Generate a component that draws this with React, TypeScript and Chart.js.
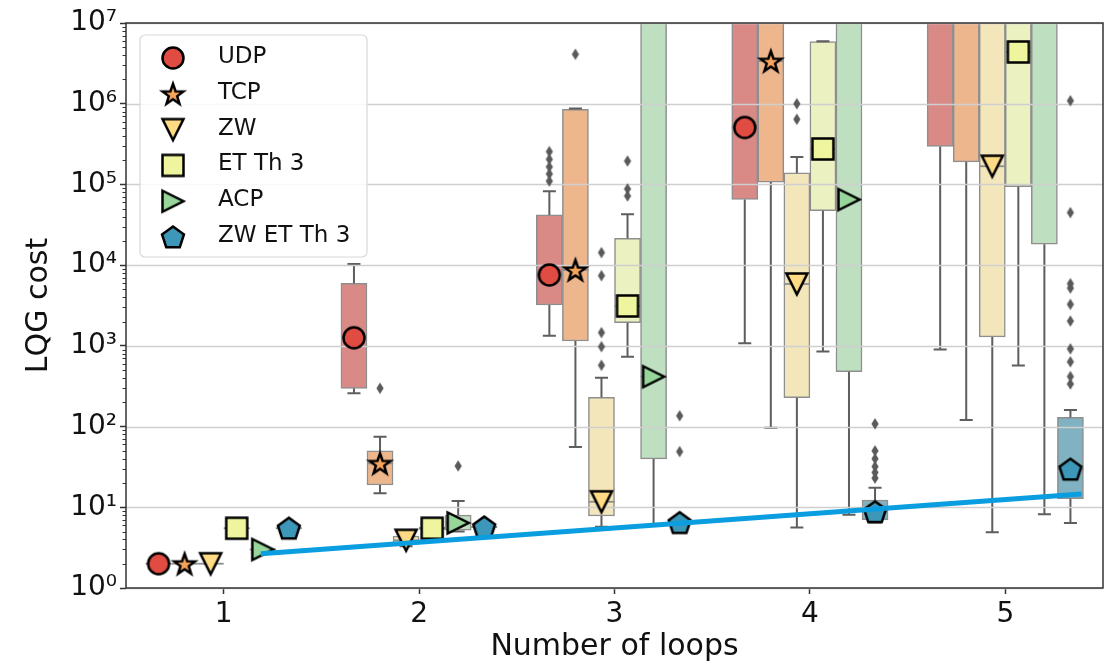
import { useEffect, useRef } from 'react';
import { Chart, registerables } from 'chart.js';

Chart.register(...registerables);

// ---------- data ----------
const categories = ['1', '2', '3', '4', '5'];
const seriesNames = ['UDP', 'TCP', 'ZW', 'ET Th 3', 'ACP', 'ZW ET Th 3'];
const yTickValues = [1, 10, 100, 1e3, 1e4, 1e5, 1e6, 1e7];
const yTickLabels = ['10⁰', '10¹', '10²', '10³', '10⁴', '10⁵', '10⁶', '10⁷'];

// rows: series (UDP..ZW ET Th 3); columns: number of loops 1..5
const boxQ1 = [
  [2, 298, 3210, 65000, 296000],
  [2, 18.9, 1150, 107000, 190000],
  [2, 3.5, 7.8, 228, 1290],
  [5.5, 5.3, 1940, 47200, 93800],
  [3, 5.2, 39.7, 478, 18200],
  [5.5, 5.7, 6.45, 7, 12.8],
];
const boxQ3 = [
  [2, 5970, 41900, 5e7, 8e7],
  [2, 49.9, 855000, 5e7, 8e7],
  [2, 4.4, 231, 139000, 8e7],
  [5.5, 5.7, 21500, 5.9e6, 8e7],
  [3, 8.0, 8e7, 8e7, 8e7],
  [5.5, 5.7, 6.45, 12.3, 130],
];
const medians = [
  [2, 1260, 7560, 508000, null],
  [2, 35, 8720, 3.37e6, null],
  [2, 3.9, 11.7, 5840, 168000],
  [5.5, 5.5, 3120, 275000, 4.38e6],
  [3, 6.4, 415, 65000, null],
  [5.5, 5.7, 6.45, 8.8, 29.6],
];
const whiskerLow = [
  [2, 258, 1330, 1077, 900],
  [2, 14.9, 56, 97, 121],
  [2, 3.3, 5.75, 5.6, 4.9],
  [5.5, 5.0, 735, 853, 571],
  [3, 5.0, 6.0, 8.1, 8.2],
  [5.5, 5.7, 6.45, 6.5, 6.4],
];
const whiskerHigh = [
  [2, 10350, 82400, 1e8, 1e8],
  [2, 75, 870000, 1e8, 1e8],
  [2, 4.6, 404, 219000, 1e8],
  [5.5, 6.0, 42700, 5.95e6, 1e8],
  [3, 12, 1e8, 1e8, 1e8],
  [5.5, 5.7, 6.45, 17.5, 161],
];
const outliers = [
  [[], [], [110000, 135000, 165000, 205000, 255000], [], []],
  [[], [298], [4.1e6], [], []],
  [[], [], [575, 977, 1460, 7410, 14300], [641000, 1e6], []],
  [[], [], [72000, 88000, 195000], [], []],
  [[], [32.5], [], [], []],
  [[], [], [49, 136], [23, 27, 32, 40, 50, 108], [337, 417, 635, 918, 2030, 3270, 5200, 5900, 44800, 1.09e6]],
];
const trendX = [1.19, 5.39];
const trendY = [2.65, 14.6];

// ---------- styles ----------
const markerKinds = ['circle', 'star', 'triangleDown', 'square', 'triangleRight', 'pentagon'];
const markerColors = ['#e04b42', '#f6a35c', '#fedb84', '#eef59e', '#97d59a', '#3c97b8'];
const boxColors = ['#d98a86', '#edb68d', '#f4e6bb', '#ebf1c0', '#bfdfc1', '#80b2c1'];
const boxEdge = '#8e8e8e';
const whiskerColor = '#5e5e5e';
const FONT = '"DejaVu Sans", "Liberation Sans", sans-serif';

function makeMarker(kind: string, fill: string): HTMLCanvasElement {
  const size = 36;
  const c = document.createElement('canvas');
  c.width = size;
  c.height = size;
  const ctx = c.getContext('2d') as CanvasRenderingContext2D;
  ctx.translate(size / 2, size / 2);
  ctx.beginPath();
  if (kind === 'circle') {
    ctx.arc(0, 0, 10.5, 0, Math.PI * 2);
  } else if (kind === 'square') {
    ctx.rect(-10.5, -10.5, 21, 21);
  } else if (kind === 'triangleDown') {
    ctx.moveTo(-10.5, -10.5);
    ctx.lineTo(10.5, -10.5);
    ctx.lineTo(0, 10.5);
  } else if (kind === 'triangleRight') {
    ctx.moveTo(-10.5, -10.5);
    ctx.lineTo(10.5, 0);
    ctx.lineTo(-10.5, 10.5);
  } else if (kind === 'star') {
    for (let i = 0; i < 10; i++) {
      const r = i % 2 === 0 ? 11 : 4.4;
      const a = -Math.PI / 2 + (i * Math.PI) / 5;
      const px = r * Math.cos(a);
      const py = r * Math.sin(a) + 1;
      if (i === 0) ctx.moveTo(px, py);
      else ctx.lineTo(px, py);
    }
  } else if (kind === 'pentagon') {
    for (let i = 0; i < 5; i++) {
      const a = -Math.PI / 2 + (i * 2 * Math.PI) / 5;
      const px = 11.5 * Math.cos(a);
      const py = 11.5 * Math.sin(a) + 1;
      if (i === 0) ctx.moveTo(px, py);
      else ctx.lineTo(px, py);
    }
  }
  ctx.closePath();
  ctx.fillStyle = fill;
  ctx.fill();
  ctx.lineWidth = 2.5;
  ctx.lineJoin = 'miter';
  ctx.strokeStyle = '#000';
  ctx.stroke();
  return c;
}

function makeDiamond(): HTMLCanvasElement {
  const c = document.createElement('canvas');
  c.width = 10;
  c.height = 14;
  const ctx = c.getContext('2d') as CanvasRenderingContext2D;
  ctx.translate(5, 7);
  ctx.beginPath();
  ctx.moveTo(0, -5.8);
  ctx.lineTo(3.6, 0);
  ctx.lineTo(0, 5.8);
  ctx.lineTo(-3.6, 0);
  ctx.closePath();
  ctx.fillStyle = '#5a5a5a';
  ctx.fill();
  return c;
}

export default function App() {
  const ref = useRef<HTMLCanvasElement>(null);

  useEffect(() => {
    const canvas = ref.current;
    if (!canvas) return;
    const n = seriesNames.length;
    // seaborn-style dodge: 0.8 of a category split among the hues
    const dodge = (h: number) => (h - (n - 1) / 2) * (0.8 / n);
    const markerImgs = markerKinds.map((k, i) => makeMarker(k, markerColors[i]));
    const diamond = makeDiamond();

    const barSets = seriesNames.map((name, h) => ({
      type: 'bar',
      label: name,
      data: categories.map((c, g) => ({ x: Number(c) + dodge(h), y: [boxQ1[h][g], boxQ3[h][g]] })),
      backgroundColor: boxColors[h],
      borderColor: boxEdge,
      borderWidth: 1.5,
      borderSkipped: false,
      grouped: false,
      categoryPercentage: 1,
      barPercentage: 1,
      xAxisID: 'x',
      yAxisID: 'y',
      order: 3,
      clip: 0,
    }));
    const outlierSets = seriesNames.map((name, h) => ({
      type: 'scatter',
      label: name + ' outliers',
      data: outliers[h].flatMap((vals, g) =>
        vals.map((v) => ({ x: Number(categories[g]) + dodge(h), y: v }))
      ),
      pointStyle: diamond,
      pointRadius: 5,
      xAxisID: 'x',
      yAxisID: 'y',
      order: 2,
      clip: 0,
    }));
    const medianSets = seriesNames.map((name, h) => ({
      type: 'scatter',
      label: name,
      data: medians[h]
        .map((m, g) => (m == null ? null : { x: Number(categories[g]) + dodge(h), y: m }))
        .filter((p) => p !== null),
      pointStyle: markerImgs[h],
      pointRadius: 11,
      xAxisID: 'x',
      yAxisID: 'y',
      order: 1,
      clip: 0,
    }));
    const trendSet = {
      type: 'line',
      label: 'trend',
      data: trendX.map((x, i) => ({ x, y: trendY[i] })),
      borderColor: '#0a9de0',
      borderWidth: 5,
      pointRadius: 0,
      fill: false,
      xAxisID: 'x',
      yAxisID: 'y',
      order: 0,
      clip: 0,
    };

    let gridDrawn = false;
    const drawGrid = (chart: any) => {
      const { ctx, chartArea: a } = chart;
      const ys = chart.scales.y;
      ctx.save();
      ctx.strokeStyle = '#cfcfcf';
      ctx.lineWidth = 1.4;
      yTickValues.forEach((v) => {
        const py = Math.round(ys.getPixelForValue(v)) + 0.5;
        ctx.beginPath();
        ctx.moveTo(a.left, py);
        ctx.lineTo(a.right, py);
        ctx.stroke();
      });
      ctx.restore();
      gridDrawn = true;
    };

    const boxPlugin = {
      id: 'boxParts',
      beforeDatasetsDraw() {
        gridDrawn = false;
      },
      beforeDatasetDraw(chart: any, args: any) {
        if (!gridDrawn && args.meta.type !== 'bar') drawGrid(chart);
      },
      afterDatasetDraw(chart: any, args: any) {
        const meta = args.meta;
        if (meta.type !== 'bar') return;
        const h = args.index;
        const { ctx, chartArea: a } = chart;
        const ys = chart.scales.y;
        ctx.save();
        ctx.beginPath();
        ctx.rect(a.left, a.top, a.right - a.left, a.bottom - a.top);
        ctx.clip();
        meta.data.forEach((bar: any, g: number) => {
          const cx = bar.x;
          const bw = bar.width;
          const p1 = ys.getPixelForValue(boxQ1[h][g]);
          const p3 = ys.getPixelForValue(boxQ3[h][g]);
          const pl = ys.getPixelForValue(whiskerLow[h][g]);
          const ph = ys.getPixelForValue(whiskerHigh[h][g]);
          ctx.strokeStyle = whiskerColor;
          ctx.lineWidth = 2;
          ctx.beginPath();
          ctx.moveTo(cx, p1);
          ctx.lineTo(cx, pl);
          ctx.moveTo(cx - bw / 4, pl);
          ctx.lineTo(cx + bw / 4, pl);
          ctx.moveTo(cx, p3);
          ctx.lineTo(cx, ph);
          ctx.moveTo(cx - bw / 4, ph);
          ctx.lineTo(cx + bw / 4, ph);
          ctx.stroke();
          const m = medians[h][g];
          if (m != null) {
            const pm = ys.getPixelForValue(m);
            ctx.strokeStyle = boxEdge;
            ctx.lineWidth = 1.8;
            ctx.beginPath();
            ctx.moveTo(cx - bw / 2, pm);
            ctx.lineTo(cx + bw / 2, pm);
            ctx.stroke();
          }
        });
        ctx.restore();
      },
      afterDatasetsDraw(chart: any) {
        if (!gridDrawn) drawGrid(chart);
        const { ctx, chartArea: a } = chart;
        const ys = chart.scales.y;
        ctx.save();
        // minor ticks on the left spine
        ctx.strokeStyle = '#333';
        ctx.lineWidth = 1;
        for (let k = 0; k < yTickValues.length - 1; k++) {
          for (let m = 2; m <= 9; m++) {
            const py = Math.round(ys.getPixelForValue(m * yTickValues[k])) + 0.5;
            ctx.beginPath();
            ctx.moveTo(a.left - 3.5, py);
            ctx.lineTo(a.left, py);
            ctx.stroke();
          }
        }
        // spines
        ctx.strokeStyle = '#333';
        ctx.lineWidth = 1.5;
        ctx.strokeRect(a.left, a.top, a.right - a.left, a.bottom - a.top);
        ctx.restore();
      },
      afterDraw(chart: any) {
        const { ctx, chartArea: a } = chart;
        const x0 = a.left + 14;
        const y0 = a.top + 12;
        const w = 227;
        const hgt = 222;
        const r = 5;
        ctx.save();
        ctx.beginPath();
        ctx.moveTo(x0 + r, y0);
        ctx.lineTo(x0 + w - r, y0);
        ctx.arcTo(x0 + w, y0, x0 + w, y0 + r, r);
        ctx.lineTo(x0 + w, y0 + hgt - r);
        ctx.arcTo(x0 + w, y0 + hgt, x0 + w - r, y0 + hgt, r);
        ctx.lineTo(x0 + r, y0 + hgt);
        ctx.arcTo(x0, y0 + hgt, x0, y0 + hgt - r, r);
        ctx.lineTo(x0, y0 + r);
        ctx.arcTo(x0, y0, x0 + r, y0, r);
        ctx.closePath();
        ctx.fillStyle = 'rgba(255,255,255,0.85)';
        ctx.fill();
        ctx.strokeStyle = '#d8d8d8';
        ctx.lineWidth = 1.2;
        ctx.stroke();
        ctx.font = '23px ' + FONT;
        ctx.textBaseline = 'middle';
        ctx.textAlign = 'left';
        ctx.fillStyle = '#111';
        seriesNames.forEach((name, i) => {
          const cy = y0 + 23 + i * 35.8;
          const img = markerImgs[i];
          ctx.drawImage(img, x0 + 33 - img.width / 2, cy - img.height / 2);
          ctx.fillText(name, x0 + 78, cy - 1);
        });
        ctx.restore();
      },
    };

    const chart = new Chart(canvas, {
      type: 'bar',
      data: {
        datasets: [...barSets, ...outlierSets, ...medianSets, trendSet] as any,
      },
      options: {
        animation: false,
        responsive: false,
        events: [],
        layout: { padding: { top: 23, right: 10, left: 0, bottom: 0 } },
        plugins: {
          legend: { display: false },
          tooltip: { enabled: false },
        },
        scales: {
          x: {
            type: 'linear',
            min: 0.5,
            max: 5.5,
            offset: false,
            afterBuildTicks: (s: any) => {
              s.ticks = categories.map((c) => ({ value: Number(c) }));
            },
            grid: {
              offset: false,
              drawOnChartArea: false,
              drawTicks: true,
              tickLength: 6,
              tickColor: '#333',
              tickWidth: 1.5,
            },
            border: { display: false },
            ticks: {
              autoSkip: false,
              font: { family: FONT, size: 28 },
              color: '#111',
              padding: 4,
              callback: (v: any) => categories.find((c) => Number(c) === Number(v)) ?? '',
            },
            title: {
              display: true,
              text: 'Number of loops',
              font: { family: FONT, size: 30 },
              color: '#111',
              padding: { top: 0, bottom: 0 },
            },
            afterFit: (s: any) => {
              s.height = 77;
            },
          },
          y: {
            type: 'logarithmic',
            min: 1,
            max: 1e7,
            afterBuildTicks: (s: any) => {
              s.ticks = yTickValues.map((v) => ({ value: v, major: true }));
            },
            grid: {
              drawOnChartArea: false,
              drawTicks: true,
              tickLength: 6,
              tickColor: '#333',
              tickWidth: 1.5,
            },
            border: { display: false },
            ticks: {
              autoSkip: false,
              font: { family: FONT, size: 28 },
              color: '#111',
              padding: 3,
              callback: (v: any) => yTickLabels[yTickValues.indexOf(Number(v))],
            },
            title: {
              display: true,
              text: 'LQG cost',
              font: { family: FONT, size: 30 },
              color: '#111',
              padding: { top: 21, bottom: 0 },
            },
            afterFit: (s: any) => {
              s.width = 126;
            },
          },
        },
      } as any,
      plugins: [boxPlugin as any],
    });

    return () => {
      chart.destroy();
    };
  }, []);

  return (
    <div
      style={{
        position: 'fixed',
        left: 0,
        top: 0,
        width: 1115,
        height: 665,
        background: '#fff',
      }}
    >
      <canvas ref={ref} width={1115} height={665} />
    </div>
  );
}
